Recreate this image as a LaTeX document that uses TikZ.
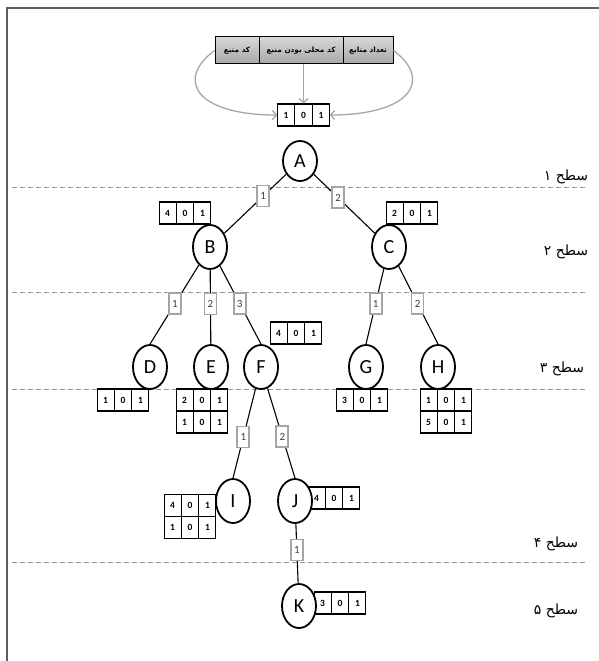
\documentclass[tikz,border=0pt]{standalone}
\usepackage{fontspec}
\setmainfont{Carlito}
\newfontfamily\arabicfont[Script=Arabic]{DejaVu Sans}
\TeXXeTstate=1
\usetikzlibrary{arrows.meta, positioning, shapes.geometric, shapes.multipart}
\definecolor{frameGray}{RGB}{95, 95, 95}
\definecolor{levelGray}{RGB}{150, 150, 150}
\definecolor{tagGray}{RGB}{165, 165, 165}
\newcommand{\cells}[3]{\makebox[16.3pt]{#1}\nodepart{two}\makebox[16.3pt]{#2}\nodepart{three}\makebox[16.3pt]{#3}}
\newcommand{\fa}[1]{\arabicfont\beginR #1\endR}

\begin{document}
\begin{tikzpicture}[
      x=1pt, y=1pt,
      vertex/.style={ellipse, draw, line width=1.8pt, fill=white, minimum width=34pt, minimum height=44pt, inner sep=0pt, font=\fontsize{20}{21}\selectfont},
      reg/.style={rectangle split, rectangle split horizontal, rectangle split parts=3, draw, line width=1.2pt, fill=white, inner xsep=0pt, inner ysep=0pt, text height=14pt, text depth=8pt, font=\bfseries\fontsize{9.5}{10}\selectfont},
      tag/.style={rectangle, draw=tagGray, line width=1.8pt, fill=white, minimum width=12pt, minimum height=21pt, inner sep=0pt, font=\fontsize{11}{12}\selectfont, text=black!75},
      head/.style={rectangle, draw, line width=1pt, top color=gray!30, bottom color=gray!70, minimum height=27pt, inner sep=0pt, font=\bfseries\fontsize{7.3}{8}\selectfont},
      level/.style={font=\fontsize{14}{16}\selectfont},
      feed/.style={draw=gray!70, line width=1.3pt, -{Straight Barb[length=4pt, width=9pt]}},
      branch/.style={line width=1.1pt},
      levelline/.style={draw=levelGray, dash pattern=on 5pt off 3pt, line width=0.8pt}
    ]
      \useasboundingbox (0,0) rectangle (599,-661);
      \draw[frameGray, line width=2pt] (7,-661) -- (7,-8) -- (599,-8);

      \foreach \y in {187, 292, 389, 562}
        \draw[levelline] (12,-\y) -- (585,-\y);

      \node[head, minimum width=44pt] (h1) at (237,-50.5) {\fa{کد منبع}};
      \node[head, minimum width=84pt, right=-1pt of h1] (h2) {\fa{کد محلی بودن منبع}};
      \node[head, minimum width=50pt, right=-1pt of h2] (h3) {\fa{تعداد منابع}};

      \node[reg] (rv) at (303.5,-115) {\cells{1}{0}{1}};
      \node[reg] (rB) at (185,-213) {\cells{4}{0}{1}};
      \node[reg] (rC) at (412,-213) {\cells{2}{0}{1}};
      \node[reg] (rF) at (296,-333) {\cells{4}{0}{1}};
      \node[reg] (rD) at (123,-400) {\cells{1}{0}{1}};
      \node[reg] (rE1) at (202,-400) {\cells{2}{0}{1}};
      \node[reg, below=-1.2pt of rE1] (rE2) {\cells{1}{0}{1}};
      \node[reg] (rG) at (362,-400) {\cells{3}{0}{1}};
      \node[reg] (rH1) at (446,-400) {\cells{1}{0}{1}};
      \node[reg, below=-1.2pt of rH1] (rH2) {\cells{5}{0}{1}};
      \node[reg] (rI1) at (190,-505.5) {\cells{4}{0}{1}};
      \node[reg, below=-1.2pt of rI1] (rI2) {\cells{1}{0}{1}};
      \node[reg] (rJ) at (334,-498) {\cells{4}{0}{1}};
      \node[reg] (rK) at (340,-603) {\cells{3}{0}{1}};

      \node[vertex, minimum height=40pt] (A) at (300,-161) {A};
      \node[vertex] (B) at (210,-247) {B};
      \node[vertex] (C) at (389,-247) {C};
      \node[vertex] (D) at (150,-367) {D};
      \node[vertex] (E) at (211,-367) {E};
      \node[vertex] (F) at (261,-367) {F};
      \node[vertex] (G) at (366,-367) {G};
      \node[vertex] (H) at (438,-367) {H};
      \node[vertex] (I) at (233,-501) {I};
      \node[vertex] (J) at (295,-501) {J};
      \node[vertex] (K) at (299,-606) {K};

      \draw[branch] (A) -- node[tag, pos=0.37] {1} (B);
      \draw[branch] (A) -- node[tag, pos=0.4] {2} (C);
      \draw[branch] (B) -- node[tag, pos=0.49] {1} (D.north);
      \draw[branch] (B) -- node[tag, pos=0.46] {2} (E);
      \draw[branch] (B) -- node[tag, pos=0.48] {3} (F.north);
      \draw[branch] (C) -- node[tag, pos=0.46] {1} (G.north);
      \draw[branch] (C) -- node[tag, pos=0.48] {2} (H.north);
      \draw[branch] (F) -- node[tag, pos=0.54] {1} (I.north);
      \draw[branch] (F) -- node[tag, pos=0.54] {2} (J.north);
      \draw[branch] (J) -- node[tag, pos=0.44] {1} (K);

      \draw[feed] (h2.south -| rv.north) -- (rv.north);
      \draw[feed] (h1.west) .. controls +(-40,-30) and +(-80,0) .. (rv.west);
      \draw[feed] (h3.east) .. controls +(40,-30) and +(80,0) .. (rv.east);

      \node[level] (s1) at (566,-177) {\fa{سطح ۱}};
      \node[level] (s2) at (566,-252) {\fa{سطح ۲}};
      \node[level] (s3) at (562,-369) {\fa{سطح ۳}};
      \node[level] (s4) at (556,-544) {\fa{سطح ۴}};
      \node[level] (s5) at (556,-611) {\fa{سطح ۵}};
    \end{tikzpicture}
\end{document}
